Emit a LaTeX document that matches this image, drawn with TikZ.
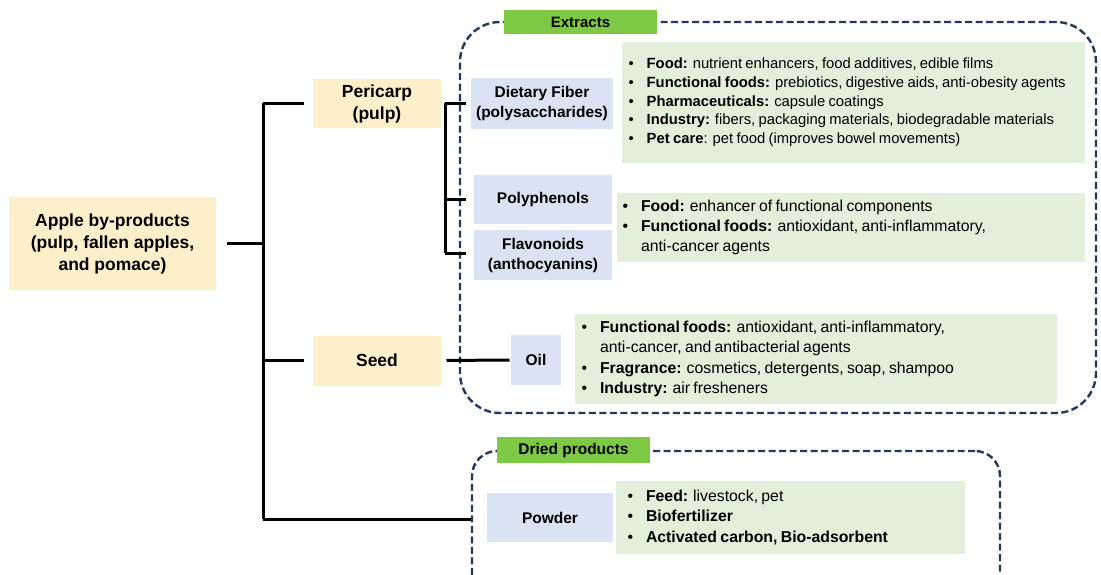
\documentclass[tikz,border=0pt]{standalone}
\usepackage{fontspec}
\setmainfont{Liberation Sans}
\usepackage{tikz}
\usetikzlibrary{positioning}

\definecolor{partfill}{HTML}{FCEFC9}
\definecolor{subfill}{HTML}{DAE3F3}
\definecolor{usefill}{HTML}{E2EFDA}
\definecolor{tagfill}{HTML}{7DC945}
\definecolor{framecol}{HTML}{1F3864}

\newcommand{\usebullets}[3]{{\fontsize{#1}{#2}\selectfont
  \begin{tabular}{@{}l@{\hspace{13pt}}l@{}}#3\end{tabular}}}

\begin{document}
\begin{tikzpicture}[x=1pt,y=-1pt,line width=3pt]
  \tikzstyle{partbox}=[fill=partfill,align=center,font=\fontsize{17.5}{22}\selectfont\bfseries]
  \tikzstyle{subbox}=[fill=subfill,align=center,font=\fontsize{15.5}{20}\selectfont\bfseries]
  \tikzstyle{usebox}=[fill=usefill,anchor=west,align=left,inner ysep=0pt]
  \tikzstyle{frame}=[draw=framecol,line width=2.4pt,dash pattern=on 7pt off 3.5pt]
  \tikzstyle{tagbox}=[fill=tagfill,font=\fontsize{15}{16}\selectfont\bfseries,
                      minimum width=153pt]

  \clip (0,0) rectangle (1101,575);

  % dashed frames
  \node[frame,rounded corners=40pt,minimum width=636pt,minimum height=391pt]
       (extframe) at (778,217.5) {};
  \node[frame,rounded corners=25pt,minimum width=528pt,minimum height=149pt]
       (dryframe) at (736,525.5) {};
  \node[tagbox,minimum height=24pt] (ext) at (580.5,22) {Extracts};
  \node[tagbox,minimum height=26pt,font=\fontsize{15.5}{16}\selectfont\bfseries]
       (dry) at (573.5,450) {Dried products};

  % parts
  \node[partbox,minimum width=207pt,minimum height=93pt]
       (apple) at (112.5,243.5) {Apple by-products\\(pulp, fallen apples,\\and pomace)};
  \node[partbox,minimum width=128pt,minimum height=49pt] (peri) at (377,103.5) {Pericarp\\(pulp)};
  \node[partbox,minimum width=128pt,minimum height=50pt] (seed) at (377,360.5) {Seed};

  % products
  \node[subbox,minimum width=142pt,minimum height=51pt] (fiber) at (542,103.5) {Dietary Fiber\\(polysaccharides)};
  \node[subbox,minimum width=138pt,minimum height=49pt] (poly) at (543,199.5) {Polyphenols};
  \node[subbox,minimum width=138pt,minimum height=50pt] (flavo) [below=3pt of poly] {Flavonoids\\(anthocyanins)};
  \node[subbox,minimum width=50pt,minimum height=50pt] (oil) at (536,360) {Oil};
  \node[subbox,minimum width=126pt,minimum height=49pt] (powder) at (550,517.5) {Powder};

  % uses
  \node[usebox,inner xsep=7pt,text width=449pt,minimum height=121pt] (use1) at (620,102.5) {\usebullets{14.8}{18.7}{
    \textbullet & \textbf{Food:} nutrient enhancers, food additives, edible films\\
    \textbullet & \textbf{Functional foods:} prebiotics, digestive aids, anti-obesity agents\\
    \textbullet & \textbf{Pharmaceuticals:} capsule coatings\\
    \textbullet & \textbf{Industry:} fibers, packaging materials, biodegradable materials\\
    \textbullet & \textbf{Pet care}: pet food (improves bowel movements)}};
  \node[usebox,inner xsep=6pt,text width=456pt,minimum height=69pt] (use2) at (615,227.5) {\usebullets{15.8}{20}{
    \textbullet & \textbf{Food:} enhancer of functional components\\
    \textbullet & \textbf{Functional foods:} antioxidant, anti-inflammatory,\\
                & anti-cancer agents}};
  \node[usebox,inner xsep=7pt,text width=468pt,minimum height=90pt] (use3) at (573,359) {\usebullets{15.8}{20.3}{
    \textbullet & \textbf{Functional foods:} antioxidant, anti-inflammatory,\\
                & anti-cancer, and antibacterial agents\\
    \textbullet & \textbf{Fragrance:} cosmetics, detergents, soap, shampoo\\
    \textbullet & \textbf{Industry:} air fresheners}};
  \node[usebox,inner xsep=12pt,text width=325pt,minimum height=73pt] (use4) at (614,517.5) {\usebullets{15.8}{20.5}{
    \textbullet & \textbf{Feed:} livestock, pet\\
    \textbullet & \textbf{Biofertilizer}\\
    \textbullet & \textbf{Activated carbon, Bio-adsorbent}}};

  % tree
  \coordinate (tA) at (263,103.5);
  \coordinate (tB) at (263,360.5);
  \coordinate (tC) at (263,519);
  \coordinate (pA) at (445,103.5);
  \coordinate (pB) at (445,253);

  \draw[shorten <=9pt] (apple.east) -- (apple.east -| tA);
  \draw (tA) -- (tC);
  \draw[shorten >=8pt] (tA) -- (peri.west);
  \draw[shorten >=8pt] (tB) -- (seed.west);
  \draw (tC) -- (tC -| dryframe.west);
  \draw (pA) -- (pB);
  \draw[shorten >=4pt] (pA) -- (fiber.west);
  \draw[shorten >=7pt] (pA |- poly) -- (poly.west);
  \draw[shorten >=7pt] (pB) -- (pB -| flavo.west);
  \draw[shorten <=4pt] (seed.east) -- (oil.west);
\end{tikzpicture}
\end{document}
